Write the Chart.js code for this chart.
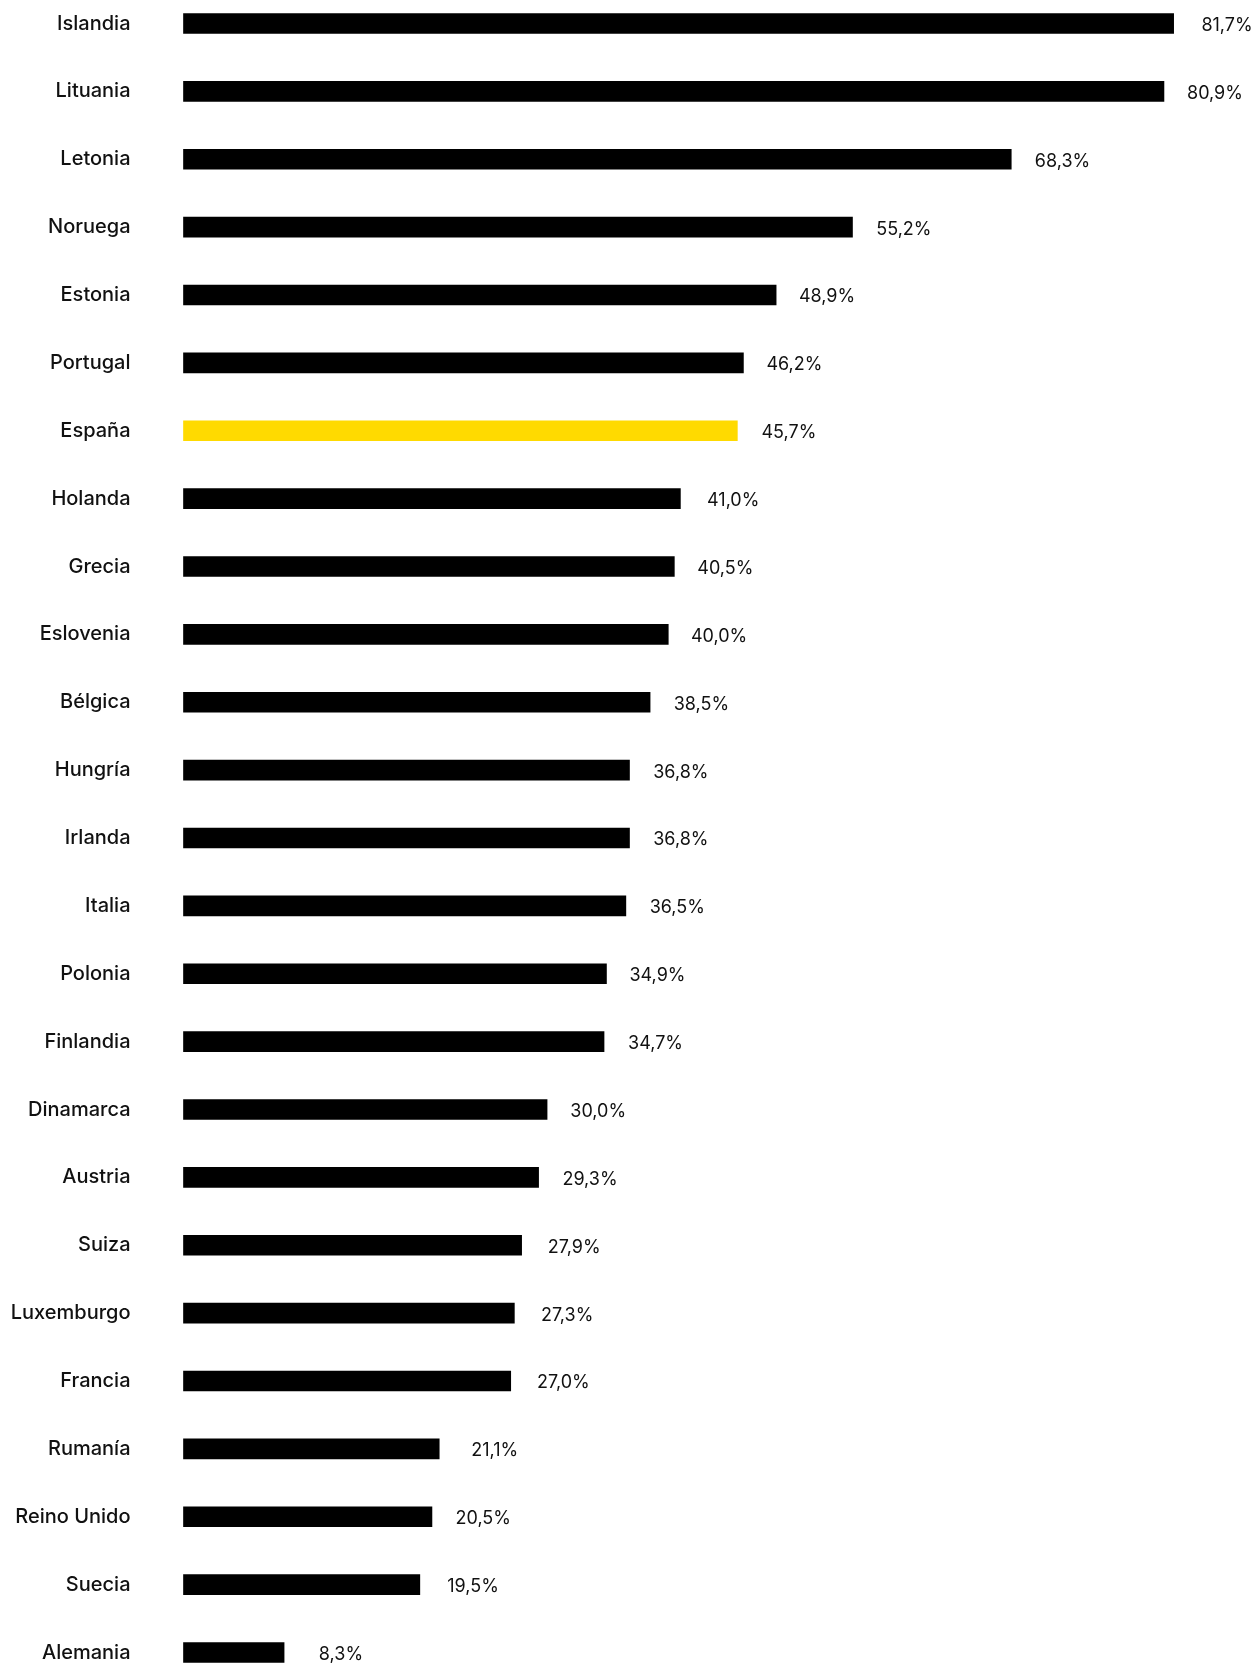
<!DOCTYPE html>
<html lang="es">
<head>
    <meta charset="UTF-8">
    <title>Porcentaje por país</title>
    <style>
        body { margin: 0; background: #fff; }
        #wrap { width: 1256px; height: 1667px; }
    </style>
</head>
<body>
    <div id="wrap">
        <canvas id="chartCanvas" width="1256" height="1667"></canvas>
    </div>
    <script src="https://cdn.jsdelivr.net/npm/chart.js"></script>
    <script>
        // data
        const countries = ['Islandia', 'Lituania', 'Letonia', 'Noruega', 'Estonia', 'Portugal', 'España',
            'Holanda', 'Grecia', 'Eslovenia', 'Bélgica', 'Hungría', 'Irlanda', 'Italia', 'Polonia',
            'Finlandia', 'Dinamarca', 'Austria', 'Suiza', 'Luxemburgo', 'Francia', 'Rumanía',
            'Reino Unido', 'Suecia', 'Alemania'];
        const values = [81.7, 80.9, 68.3, 55.2, 48.9, 46.2, 45.7, 41.0, 40.5, 40.0, 38.5, 36.8, 36.8,
            36.5, 34.9, 34.7, 30.0, 29.3, 27.9, 27.3, 27.0, 21.1, 20.5, 19.5, 8.3];
        const highlight = 'España';

        const barColors = countries.map(c => c === highlight ? '#FFDA00' : '#000000');

        function fmt(v) {
            return v.toFixed(1).replace('.', ',') + '%';
        }

        // value labels, right-aligned a fixed distance past each bar end
        const valueLabels = {
            id: 'valueLabels',
            afterDatasetsDraw(chart) {
                const ctx = chart.ctx;
                const meta = chart.getDatasetMeta(0);
                ctx.save();
                ctx.font = '400 18px Inter';
                ctx.fillStyle = '#111';
                ctx.textAlign = 'right';
                ctx.textBaseline = 'middle';
                meta.data.forEach((bar, i) => {
                    ctx.fillText(fmt(values[i]), bar.x + 79, bar.y + 2);
                });
                ctx.restore();
            }
        };

        const ctx = document.getElementById('chartCanvas').getContext('2d');
        new Chart(ctx, {
            type: 'bar',
            data: {
                labels: countries,
                datasets: [{
                    data: values,
                    backgroundColor: barColors,
                    borderWidth: 0,
                    barThickness: 20,
                    clip: false
                }]
            },
            options: {
                indexAxis: 'y',
                responsive: false,
                animation: false,
                layout: { padding: { top: 23.5, bottom: 14.5, left: 0, right: 6 } },
                plugins: {
                    legend: { display: false },
                    tooltip: { enabled: false }
                },
                scales: {
                    x: {
                        min: 0,
                        max: 88,
                        display: false
                    },
                    y: {
                        offset: false,
                        grid: { display: false, drawTicks: false },
                        border: { display: false },
                        ticks: {
                            color: '#111',
                            font: { family: 'Inter', size: 20, weight: '500' },
                            padding: 53
                        },
                        afterFit(scale) {
                            // fixed axis width; drop the label padding so the rows fill the canvas
                            scale.width = 183.5;
                            scale.paddingTop = 0;
                            scale.paddingBottom = 0;
                        }
                    }
                }
            },
            plugins: [valueLabels]
        });
    </script>
</body>
</html>
